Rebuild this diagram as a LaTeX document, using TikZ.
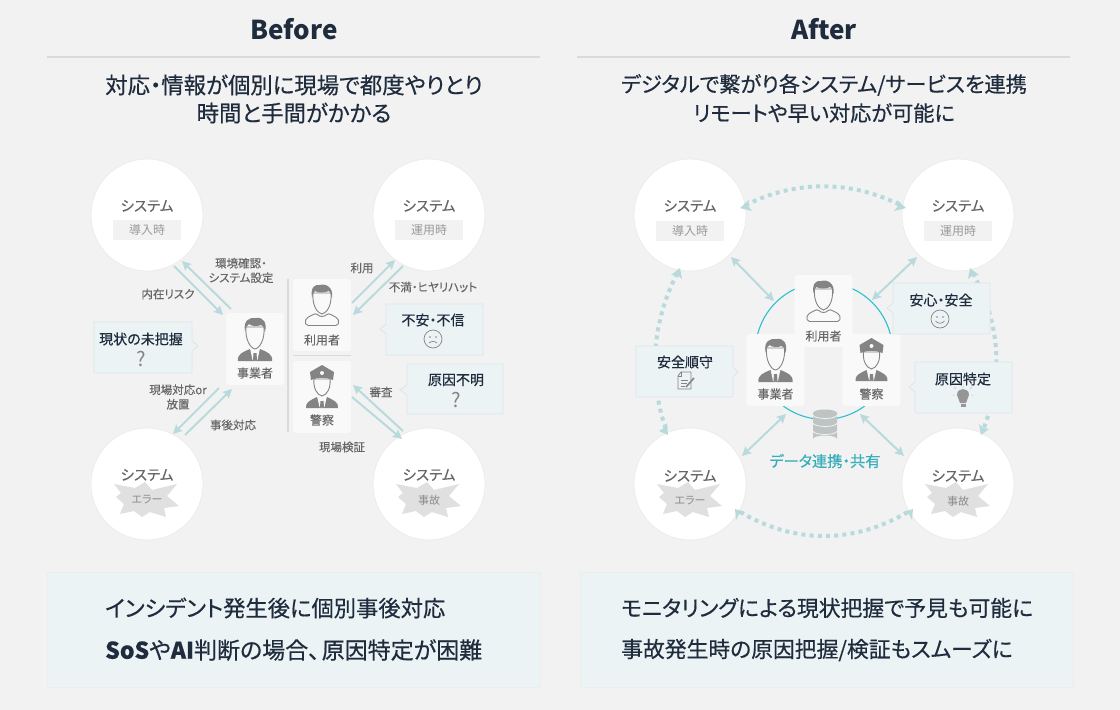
\documentclass[tikz,border=0pt]{standalone}
\usepackage{fontspec}
\usetikzlibrary{arrows.meta}
\setmainfont[RawFeature=+palt]{Noto Sans CJK JP}
\newfontfamily\medf[RawFeature=+palt,FakeBold=0.45]{Noto Sans CJK JP}
\newfontfamily\lightbf[RawFeature=+palt,FakeBold=0.15]{Noto Sans CJK JP}
\definecolor{bgc}{HTML}{F2F2F2}
\definecolor{ink}{HTML}{1F2C3D}
\definecolor{rulec}{HTML}{DADADA}
\definecolor{greytxt}{HTML}{666666}
\definecolor{tagtxt}{HTML}{9A9A9A}
\definecolor{iconc}{HTML}{848484}
\definecolor{cardc}{HTML}{F9F9F9}
\definecolor{bubc}{HTML}{ECF3F5}
\definecolor{bubl}{HTML}{DDE5E7}
\definecolor{arrowc}{HTML}{B8DADC}
\definecolor{ringc}{HTML}{2CC0D0}
\definecolor{dbc}{HTML}{BEC3C4}
\definecolor{tealt}{HTML}{38AEBA}
\definecolor{starc}{HTML}{E0E0E0}
\newcommand{\fsz}[1]{\fontsize{#1}{#1}\selectfont}
\tikzset{
  x=1pt,y=-1pt,
  heading/.style={inner sep=0,text=ink,font=\fsz{26}\bfseries},
  subheadb/.style={inner sep=0,text=ink,font=\fsz{22.4}\medf},
  subheada/.style={inner sep=0,text=ink,font=\fsz{21.2}\medf},
  bottomtxtb/.style={inner sep=0,text=ink,font=\fsz{22.3}\medf,anchor=west},
  bottomtxtc/.style={inner sep=0,text=ink,font=\fsz{23}\medf,anchor=west},
  bottomtxta/.style={inner sep=0,text=ink,font=\fsz{21.8}\medf,anchor=west},
  sysc/.style={circle,fill=white,draw=black!8,line width=.7pt,minimum size=112pt,inner sep=0},
  systxt/.style={inner sep=0,text=greytxt,font=\fsz{14.5}\lightbf},
  tagbox/.style={fill=bgc,minimum width=68pt,minimum height=20pt,inner sep=0,text=tagtxt,font=\fsz{12}},
  startxt/.style={inner sep=0,text=tagtxt!90!black,font=\fsz{11}},
  lab/.style={inner sep=0,text=greytxt,font=\fsz{11.5}\lightbf,align=center},
  card/.style={fill=cardc,rounded corners=3pt,minimum width=58pt,minimum height=72pt,inner sep=0},
  cardtxt/.style={inner sep=0,text=greytxt,font=\fsz{12}\lightbf},
  bub/.style={fill=bubc,draw=bubl,line width=.8pt},
  bubtxt/.style={inner sep=0,text=ink,font=\fsz{14}\medf},
  qmark/.style={inner sep=0,text=iconc,font=\fsz{20}},
  arr/.style={draw=arrowc,line width=2pt,-{Stealth[length=9pt,width=9pt,inset=1.5pt]}},
  arrb/.style={draw=arrowc,line width=2pt,{Stealth[length=9pt,width=9pt,inset=1.5pt]}-{Stealth[length=9pt,width=9pt,inset=1.5pt]}},
  dots/.style={draw=arrowc,line width=4pt,dash pattern=on 4pt off 4.2pt},
  tipc/.style={fill=arrowc},
  hr/.style={draw=rulec,line width=1.4pt},
  panel/.style={fill=bubc,draw=black!7,line width=.8pt},
  suitman/.pic={
    \fill[iconc] (-17,48) .. controls (-18,41) and (-12,39) .. (-5,36) -- (0,41) -- (5,36) .. controls (12,39) and (18,41) .. (17,48) -- cycle;
    \fill[cardc] (-5,35) -- (5,35) -- (2.5,47) -- (-2.5,47) -- cycle;
    \fill[iconc] (-1.5,40) -- (1.5,40) -- (2,47) -- (-2,47) -- cycle;
    \draw[iconc,fill=cardc,line width=.9pt] (-9,14) .. controls (-10,26) and (-5,35) .. (0,36) .. controls (5,35) and (10,26) .. (9,14) -- cycle;
    \fill[iconc] (-10,18) .. controls (-12,7) and (-5,4) .. (1,5) .. controls (9,4) and (12,10) .. (10,19) .. controls (9,14) and (8,12) .. (6,12) .. controls (2,14) and (-4,13) .. (-6,11) .. controls (-8,12) and (-9,14) .. (-10,18) -- cycle;
  },
  plainman/.pic={
    \draw[iconc,fill=none,line width=.9pt,rounded corners=2pt] (-16,46.5) .. controls (-18,39) and (-12,37) .. (-5,34) .. controls (-3,38) and (3,38) .. (5,34) .. controls (12,37) and (18,39) .. (16,46.5) -- cycle;
    \draw[iconc,fill=cardc,line width=.9pt] (-9,14) .. controls (-10,26) and (-5,34) .. (0,35) .. controls (5,34) and (10,26) .. (9,14) -- cycle;
    \fill[iconc] (-10,18) .. controls (-12,8) and (-6,5) .. (-3,6) .. controls (2,4) and (12,7) .. (10,19) .. controls (9,14) and (8,13) .. (7,12) .. controls (2,14) and (-4,14) .. (-7,12) .. controls (-8,13) and (-9,14) .. (-10,18) -- cycle;
  },
  officer/.pic={
    \fill[iconc] (-16,47) .. controls (-17,41) and (-11,39) .. (-5,36) -- (0,41) -- (5,36) .. controls (11,39) and (17,41) .. (16,47) -- cycle;
    \fill[cardc] (-5,35) -- (5,35) -- (2.5,46) -- (-2.5,46) -- cycle;
    \fill[iconc] (-1.5,40) -- (1.5,40) -- (2,46) -- (-2,46) -- cycle;
    \draw[iconc,fill=cardc,line width=.9pt] (-8,18) .. controls (-9,27) and (-5,34) .. (0,35) .. controls (5,34) and (9,27) .. (8,18) -- cycle;
    \fill[iconc] (-12,11) -- (0,4) -- (12,11) -- (11,19) .. controls (4,16) and (-4,16) .. (-11,19) -- cycle;
    \fill[cardc] (0,12) circle[radius=2];
  },
  sadface/.pic={
    \draw[iconc,line width=.7pt] (0,0) circle[radius=9];
    \fill[iconc] (-3,-2) circle[radius=.9] (3,-2) circle[radius=.9];
    \draw[iconc,line width=.7pt] (-4,4) .. controls (-2,2) and (2,2) .. (4,4);
  },
  happyface/.pic={
    \draw[iconc,line width=.7pt] (0,0) circle[radius=9];
    \fill[iconc] (-3,-2) circle[radius=.9] (3,-2) circle[radius=.9];
    \draw[iconc,line width=.7pt] (-4.5,2) .. controls (-2,5) and (2,5) .. (4.5,2);
  },
  docicon/.pic={
    \draw[iconc,fill=bubc,line width=.8pt,line join=round] (-4,-9) -- (6,-9) -- (6,8) -- (-7,8) -- (-7,-5) -- cycle;
    \draw[iconc,line width=.6pt] (-4,-9) -- (-4,-5) -- (-7,-5);
    \draw[iconc,line width=.6pt] (-4,-1) -- (3,-1) (-4,2) -- (2,2) (-4,5) -- (0,5);
    \draw[iconc,line width=1.6pt] (1,6) -- (9,-3);
  },
  bulbicon/.pic={
    \fill[iconc!85] (-3,5) .. controls (-3,2) and (-6,0) .. (-6,-3) .. controls (-6,-11) and (6,-11) .. (6,-3) .. controls (6,0) and (3,2) .. (3,5) -- cycle;
    \fill[iconc!85] (-2.5,6) rectangle (2.5,9);
    \draw[iconc!50,line width=.5pt] (-10,-3) -- (-8,-3) (10,-3) -- (8,-3) (-7,-9) -- (-9,-11) (7,-9) -- (9,-11) (0,-10) -- (0,-12);
  },
  burst/.pic={
    \fill[starc] (-33,-16) -- (-12,-12) -- (-2,-18) -- (5,-10) -- (30,-16) -- (20,-4) -- (32,6) -- (17,8) -- (19,17) -- (3,12) -- (-5,17) -- (-13,11) -- (-27,14) -- (-23,4) -- (-31,-3) -- (-26,-7) -- cycle;
  },
  dbicon/.pic={
    \fill[dbc] (-12,3) -- (12,3) -- (12,29) arc[start angle=0,end angle=180,x radius=12,y radius=-3.5] -- cycle;
    \fill[dbc] (0,3) ellipse[x radius=12,y radius=3.5];
    \draw[bgc,line width=.8pt] (-12,5) arc[start angle=180,end angle=360,x radius=12,y radius=-3.5];
    \draw[bgc,line width=.8pt] (-12,13) arc[start angle=180,end angle=360,x radius=12,y radius=-3.5];
    \draw[bgc,line width=.8pt] (-12,21) arc[start angle=180,end angle=360,x radius=12,y radius=-3.5];
  },
}
\begin{document}
\begin{tikzpicture}
\useasboundingbox (0,0) rectangle (1120,710);
\fill[bgc] (0,0) rectangle (1120,710);

% Headings
\node[heading] (hBefore) at (294,29) {Before};
\node[heading] (hAfter) at (824,29) {After};
\draw[hr] (47,57) -- (540,57);
\draw[hr] (577,57) -- (1070,57);
\node[subheadb] (sb1) at (294,85) {対応・情報が個別に現場で都度やりとり};
\node[subheadb] (sb2) at (294,113) {時間と手間がかかる};
\node[subheada] (sa1) at (824,85) {デジタルで繋がり各システム/サービスを連携};
\node[subheada] (sa2) at (824,113) {リモートや早い対応が可能に};

% ---------- BEFORE ----------
\node[sysc] (bTL) at (147,215) {};
\node[sysc] (bTR) at (429,215) {};
\node[sysc] (bBL) at (147,484) {};
\node[sysc] (bBR) at (429,484) {};
\node[systxt] (bTLt) at (147,206) {システム};
\node[tagbox] (bTLg) at (147,230) {導入時};
\node[systxt] (bTRt) at (429,206) {システム};
\node[tagbox] (bTRg) at (429,230) {運用時};
\node[systxt] (bBLt) at (147,475) {システム};
\pic at (147,500) {burst};
\node[startxt] (bBLg) at (147,500) {エラー};
\node[systxt] (bBRt) at (429,475) {システム};
\pic at (429,500) {burst};
\node[startxt] (bBRg) at (429,500) {事故};

\node[card] (bOp) at (255,349) {};
\pic at (255,313) {suitman};
\node[cardtxt] (bOpt) at (255,373) {事業者};
\draw[hr] (288,279) -- (288,432);
\node[card] (bUs) at (322,315) {};
\pic at (322,279) {plainman};
\node[cardtxt] (bUst) at (322,340) {利用者};
\draw[rulec,line width=1pt] (293,355) -- (351,355);
\node[card] (bPo) at (322,397) {};
\pic at (322,361) {officer};
\node[cardtxt] (bPot) at (322,420) {警察};

\coordinate (a1s) at (174,266); \coordinate (a1e) at (223,315);
\coordinate (a2s) at (231,309); \coordinate (a2e) at (182,261);
\coordinate (a3s) at (352,303); \coordinate (a3e) at (395,260);
\coordinate (a4s) at (403,266); \coordinate (a4e) at (353,315);
\coordinate (a5s) at (403,431); \coordinate (a5e) at (353,385);
\coordinate (a6s) at (352,397); \coordinate (a6e) at (402,439);
\coordinate (a7s) at (219,388); \coordinate (a7e) at (173,434);
\coordinate (a8s) at (185,435); \coordinate (a8e) at (232,389);
\foreach \p in {1,...,8} \draw[arr] (a\p s) -- (a\p e);

\node[lab] (l1) at (168,294) {内在リスク};
\node[lab] (l2) at (241,270.5) {環境確認・\\[3pt]システム設定};
\node[lab] (l3) at (362,268) {利用};
\node[lab] (l4) at (433,287) {不満・ヒヤリハット};
\node[lab] (l5) at (381,392) {審査};
\node[lab] (l6) at (342,447) {現場検証};
\node[lab] (l7) at (178,397) {現場対応or\\[3pt]放置};
\node[lab] (l8) at (233,425) {事後対応};

\draw[bub] (94,322) -- (192,322) -- (192,341) -- (198,346) -- (192,351) -- (192,373) -- (94,373) -- cycle;
\node[bubtxt] (bb1) at (141,339) {現状の未把握};
\node[qmark] (bb1q) at (141,359) {?};
\draw[bub] (386,304) -- (483,304) -- (483,355) -- (386,355) -- (386,334) -- (380,329) -- (386,324) -- cycle;
\node[bubtxt] (bb2) at (433,320) {不安・不信};
\pic at (433,339) {sadface};
\draw[bub] (407,364) -- (503,364) -- (503,414) -- (407,414) -- (407,395) -- (400,390) -- (407,385) -- cycle;
\node[bubtxt] (bb3) at (456,380) {原因不明};
\node[qmark] (bb3q) at (456,400) {?};

% ---------- AFTER ----------
\node[sysc] (aTL) at (690,215) {};
\node[sysc] (aTR) at (958,215) {};
\node[sysc] (aBL) at (690,484) {};
\node[sysc] (aBR) at (958,484) {};
\node[systxt] (aTLt) at (690,206) {システム};
\node[tagbox] (aTLg) at (690,231) {導入時};
\node[systxt] (aTRt) at (958,206) {システム};
\node[tagbox] (aTRg) at (958,231) {運用時};
\node[systxt] (aBLt) at (690,476) {システム};
\pic at (690,500) {burst};
\node[startxt] (aBLg) at (690,501) {エラー};
\node[systxt] (aBRt) at (958,476) {システム};
\pic at (958,500) {burst};
\node[startxt] (aBRg) at (958,501) {事故};

% dotted links
\coordinate (dT1) at (740,208); \coordinate (dT2) at (906,208);
\coordinate (dB1) at (735,509); \coordinate (dB2) at (913,509);
\coordinate (dL1) at (680,268); \coordinate (dL2) at (668,435);
\coordinate (dR1) at (970,268); \coordinate (dR2) at (981,435);
\draw[dots,shorten <=6pt,shorten >=6pt] (dT1) .. controls (795,180) and (851,180) .. (dT2);
\draw[dots,shorten <=6pt,shorten >=6pt] (dB1) .. controls (795,544) and (853,544) .. (dB2);
\draw[dots,shorten <=6pt,shorten >=6pt] (dL1) .. controls (652,322) and (648,378) .. (dL2);
\draw[dots,shorten <=6pt,shorten >=6pt] (dR1) .. controls (1000,322) and (1004,377) .. (dR2);
\fill[tipc] (740,208) -- (749,200) -- (748,206) -- (752,211) -- cycle;
\fill[tipc] (906,208) -- (897,200) -- (898,206) -- (894,211) -- cycle;
\fill[tipc] (735,509) -- (745,512) -- (739,514) -- (736,520) -- cycle;
\fill[tipc] (913,509) -- (903,512) -- (909,514) -- (912,520) -- cycle;
\fill[tipc] (680,268) -- (682,279) -- (677,275) -- (671,275) -- cycle;
\fill[tipc] (668,435) -- (659,431) -- (664,428) -- (667,423) -- cycle;
\fill[tipc] (970,268) -- (979,275) -- (973,275) -- (968,279) -- cycle;
\fill[tipc] (981,435) -- (979,424) -- (983,428) -- (989,429) -- cycle;

% ring
\draw[ringc,line width=1.1pt] (824,351) circle[radius=68.4];
\pic at (825,410) {dbicon};

\node[card] (aUs) at (823.5,311) {};
\pic at (823.5,275) {plainman};
\node[cardtxt] (aUst) at (823.5,336) {利用者};
\node[card] (aOp) at (775.5,370) {};
\pic at (775.5,334) {suitman};
\node[cardtxt] (aOpt) at (775.5,394) {事業者};
\node[card] (aPo) at (871.5,370) {};
\pic at (871.5,334) {officer};
\node[cardtxt] (aPot) at (871.5,394) {警察};

\node[inner sep=0,text=tealt,font=\fsz{15.2}\medf] (aShare) at (825,461) {データ連携・共有};

\coordinate (b1s) at (731,257); \coordinate (b1e) at (774,301);
\coordinate (b2s) at (917,257); \coordinate (b2e) at (872,300);
\coordinate (b3s) at (786,414); \coordinate (b3e) at (742,456);
\coordinate (b4s) at (860,414); \coordinate (b4e) at (904,456);
\foreach \p in {1,...,4} \draw[arrb] (b\p s) -- (b\p e);

\draw[bub] (636,346) -- (733,346) -- (733,367) -- (738,372) -- (733,377) -- (733,397) -- (636,397) -- cycle;
\node[bubtxt] (ab1) at (685,362) {安全順守};
\pic at (685,381) {docicon};
\draw[bub] (893,283) -- (990,283) -- (990,334) -- (893,334) -- (893,313) -- (887,308) -- (893,303) -- cycle;
\node[bubtxt] (ab2) at (941,300) {安心・安全};
\pic at (940,319) {happyface};
\draw[bub] (915,362) -- (1012,362) -- (1012,413) -- (915,413) -- (915,392) -- (909,387) -- (915,382) -- cycle;
\node[bubtxt] (ab3) at (963,379) {原因特定};
\pic at (963,398) {bulbicon};

% ---------- bottom panels ----------
\fill[black!5] (45.5,573.5) rectangle (541.5,689);
\fill[black!5] (578.5,573.5) rectangle (1074.5,689);
\draw[panel] (47,572) rectangle (540,687);
\draw[panel] (580,572) rectangle (1073,687);
\node[bottomtxtb] (pb1) at (105,608) {インシデント発生後に個別事後対応};
\node[bottomtxtc] (pb2) at (105,650) {{\bfseries SoS}や{\bfseries AI}判断の場合、\hspace{2pt}原因特定が困難};
\node[bottomtxta] (pa1) at (621,608) {モニタリングによる現状把握で予見も可能に};
\node[bottomtxta] (pa2) at (621,650) {事故発生時の原因把握/検証もスムーズに};
\end{tikzpicture}
\end{document}
